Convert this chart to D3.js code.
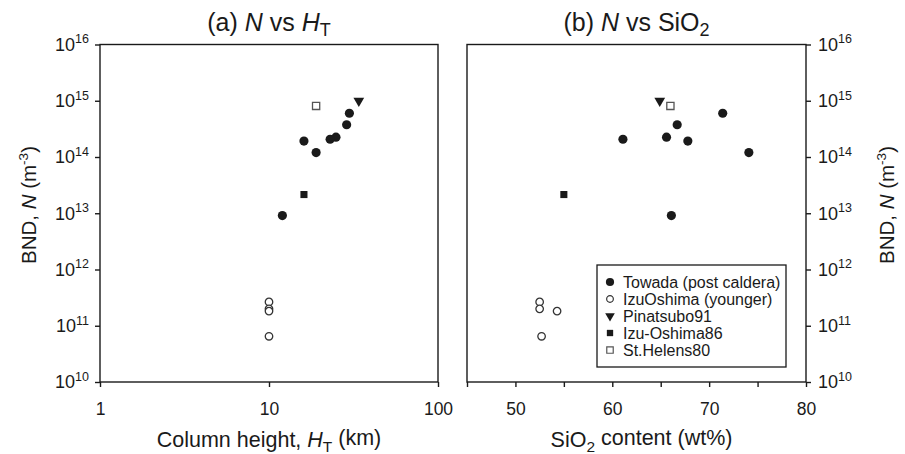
<!DOCTYPE html>
<html><head><meta charset="utf-8">
<script src="https://cdn.jsdelivr.net/npm/d3@7"></script>
<style>body{margin:0;background:#fff}svg{display:block;font-family:"Liberation Sans",Arial,sans-serif}</style>
</head><body><svg id="c" width="905" height="454"></svg>
<script>
// ---- data ----
const towadaH     = [29.9, 28.8, 24.9, 23.0, 16.1, 19.0, 12.0];
const towadaSiO2  = [71.4, 66.7, 65.6, 61.1, 67.8, 74.1, 66.1];
const towadaN     = [6.0e14, 3.75e14, 2.25e14, 2.07e14, 1.92e14, 1.2e14, 9.1e12];
const izuH        = [10, 10, 10, 10];
const izuSiO2     = [52.5, 52.5, 54.3, 52.7];
const izuN        = [2.65e11, 2.0e11, 1.82e11, 6.5e10];
const pinatuboH = [34.0], pinatuboSiO2 = [64.9], pinatuboN = [1.0e15];
const izu86H = [16.1], izu86SiO2 = [55.0], izu86N = [2.15e13];
const helensH = [19.0], helensSiO2 = [66.0], helensN = [8.1e14];
const legendLabels = ["Towada (post caldera)", "IzuOshima (younger)", "Pinatsubo91", "Izu-Oshima86", "St.Helens80"];
const yTicks = [1e10, 1e11, 1e12, 1e13, 1e14, 1e15, 1e16];
const xTicksLeft = [1, 10, 100];
const xTicksRight = [45, 50, 55, 60, 65, 70, 75, 80];
const xLabelsRight = [50, 60, 70, 80];

// ---- layout ----
const svg = d3.select("#c");
const yTop = 44.5, yBot = 382;
const L = {x0: 100, x1: 438}, R = {x0: 467, x1: 806};
const y = d3.scaleLog().domain([1e10, 1e16]).range([yBot, yTop]);
const xL = d3.scaleLog().domain([1, 100]).range([L.x0, L.x1]);
const xR = d3.scaleLinear().domain([45, 80]).range([R.x0, R.x1]);
const ink = "#1a1a1a";

function frame(p) {
  svg.append("rect").attr("x", p.x0).attr("y", yTop).attr("width", p.x1 - p.x0).attr("height", yBot - yTop)
    .attr("fill", "none").attr("stroke", ink).attr("stroke-width", 1.4);
}
frame(L); frame(R);

function styleAxis(g) {
  g.select(".domain").remove();
  g.selectAll(".tick line").attr("stroke", ink).attr("stroke-width", 1.4);
  g.selectAll(".tick text").attr("fill", ink).attr("font-family", "Liberation Sans, Arial, sans-serif");
}
function powLabels(g) {
  g.selectAll(".tick text").each(function(d) {
    const t = d3.select(this); t.text(null).attr("font-size", 18);
    t.append("tspan").text("10");
    t.append("tspan").attr("dy", "-0.6em").attr("font-size", 12.5).text(Math.round(Math.log10(d)));
  });
}
// left y axis
const gyL = svg.append("g").attr("transform", `translate(${L.x0},0)`)
  .call(d3.axisLeft(y).tickValues(yTicks).tickSize(5).tickPadding(6));
styleAxis(gyL); powLabels(gyL);
// right y axis
const gyR = svg.append("g").attr("transform", `translate(${R.x1},0)`)
  .call(d3.axisRight(y).tickValues(yTicks).tickSize(5).tickPadding(7));
styleAxis(gyR); powLabels(gyR);
// left x axis
const gxL = svg.append("g").attr("transform", `translate(0,${yBot})`)
  .call(d3.axisBottom(xL).tickValues(xTicksLeft).tickSize(5).tickPadding(16).tickFormat(d3.format("d")));
styleAxis(gxL); gxL.selectAll(".tick text").attr("font-size", 17.5);
// right x axis
const gxR = svg.append("g").attr("transform", `translate(0,${yBot})`)
  .call(d3.axisBottom(xR).tickValues(xTicksRight).tickSize(5).tickPadding(16)
    .tickFormat(d => xLabelsRight.includes(d) ? d : ""));
styleAxis(gxR); gxR.selectAll(".tick text").attr("font-size", 17.5);

// ---- titles ----
function title(x, yy, parts, size) {
  const t = svg.append("text").attr("x", x).attr("y", yy).attr("text-anchor", "middle")
    .attr("font-size", size).attr("fill", ink);
  parts.forEach(p => {
    const s = t.append("tspan").text(p.t);
    if (p.i) s.attr("font-style", "italic");
    if (p.sub) s.attr("font-size", size * 0.72).attr("dy", "0.3em");
    if (p.back) s.attr("dy", "-0.3em");
  });
  return t;
}
title((L.x0 + L.x1) / 2, 31, [{t: "(a) "}, {t: "N", i: 1}, {t: " vs "}, {t: "H", i: 1}, {t: "T", sub: 1}], 25);
title((R.x0 + R.x1) / 2, 31, [{t: "(b) "}, {t: "N", i: 1}, {t: " vs SiO"}, {t: "2", sub: 1}], 25);
title((L.x0 + L.x1) / 2, 447, [{t: "Column height, "}, {t: "H", i: 1}, {t: "T", sub: 1}, {t: " (km)", back: 1}], 21.5);
title((R.x0 + R.x1) / 2 + 5, 447, [{t: "SiO"}, {t: "2", sub: 1}, {t: " content (wt%)", back: 1}], 21.5);

function ylab(x) {
  const t = svg.append("text").attr("transform", `translate(${x},205) rotate(-90)`)
    .attr("text-anchor", "middle").attr("font-size", 20.5).attr("fill", ink);
  t.append("tspan").text("BND, ");
  t.append("tspan").attr("font-style", "italic").text("N");
  t.append("tspan").text(" (m");
  t.append("tspan").attr("font-size", 13.5).attr("dy", "-0.6em").text("-3");
  t.append("tspan").attr("dy", "0.4em").text(")");
}
ylab(36); ylab(894);

// ---- markers ----
const sym = {
  circle: {type: d3.symbolCircle, size: 66, fill: ink, stroke: "none"},
  ocircle: {type: d3.symbolCircle, size: 44, fill: "#fff", stroke: "#333"},
  tri: {type: d3.symbolTriangle, size: 50, fill: ink, stroke: "none", rot: 180},
  square: {type: d3.symbolSquare, size: 50, fill: ink, stroke: "none"},
  osquare: {type: d3.symbolSquare, size: 52, fill: "#fff", stroke: "#555"}
};
function plot(xs, ys, xScale, s) {
  const cfg = sym[s];
  svg.append("g").selectAll("path").data(xs.map((v, i) => [v, ys[i]])).join("path")
    .attr("d", d3.symbol().type(cfg.type).size(cfg.size))
    .attr("transform", d => `translate(${xScale(d[0])},${y(d[1])})` + (cfg.rot ? ` rotate(${cfg.rot})` : ""))
    .attr("fill", cfg.fill).attr("stroke", cfg.stroke).attr("stroke-width", 1.3);
}
plot(izuH, izuN, xL, "ocircle");
plot(towadaH, towadaN, xL, "circle");
plot(pinatuboH, pinatuboN, xL, "tri");
plot(izu86H, izu86N, xL, "square");
plot(helensH, helensN, xL, "osquare");
plot(izuSiO2, izuN, xR, "ocircle");
plot(towadaSiO2, towadaN, xR, "circle");
plot(pinatuboSiO2, pinatuboN, xR, "tri");
plot(izu86SiO2, izu86N, xR, "square");
plot(helensSiO2, helensN, xR, "osquare");

// ---- legend ----
const lg = svg.append("g");
lg.append("rect").attr("x", 597).attr("y", 265).attr("width", 189).attr("height", 102)
  .attr("fill", "#fff").attr("stroke", ink).attr("stroke-width", 1.3);
const legSyms = ["circle", "ocircle", "tri", "square", "osquare"];
legendLabels.forEach((lab, i) => {
  const yy = 282 + i * 17;
  const cfg = sym[legSyms[i]];
  lg.append("path").attr("d", d3.symbol().type(cfg.type).size(cfg.size * 0.8))
    .attr("transform", `translate(610,${yy})` + (cfg.rot ? " rotate(180)" : ""))
    .attr("fill", cfg.fill).attr("stroke", cfg.stroke).attr("stroke-width", 1.2);
  lg.append("text").attr("x", 623).attr("y", yy + 5.5).attr("font-size", 16).attr("fill", ink).text(lab);
});
</script></body></html>
